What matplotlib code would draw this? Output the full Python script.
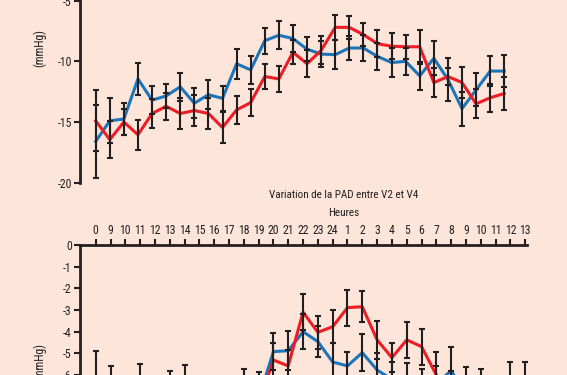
import numpy as np
import matplotlib
matplotlib.use('Agg')
import matplotlib.pyplot as plt
import logging

logging.getLogger('matplotlib.font_manager').setLevel(logging.ERROR)
plt.rcParams['font.family'] = ['Liberation Sans Narrow', 'Roboto Condensed',
                               'Open Sans Condensed', 'Liberation Sans', 'DejaVu Sans']
plt.rcParams['axes.unicode_minus'] = False

# --- data -------------------------------------------------------------------
hours = ['0', '9', '10', '11', '12', '13', '14', '15', '16', '17', '18', '19',
         '20', '21', '22', '23', '24', '1', '2', '3', '4', '5', '6', '7', '8',
         '9', '10', '11', '12', '13']

# top panel (previous comparison, only its lower part is visible)
top_blue = [-16.6, -14.9, -14.75, -11.45, -13.2, -12.85, -12.1, -13.45, -12.75, -13.05,
            -10.2, -10.7, -8.3, -7.85, -8.12, -9.0, -9.4, -9.45, -8.9, -8.9,
            -9.6, -10.1, -10.0, -11.2, -9.75, -11.5, -13.9, -12.35, -10.8, -10.8]
top_blue_err = [3.0, 1.85, 1.35, 1.3, 1.15, 1.0, 1.17, 1.24, 1.2, 1.05,
                1.25, 1.15, 1.07, 1.17, 1.15, 1.0, 1.1, 1.2, 1.0, 1.1,
                1.1, 1.2, 1.1, 1.18, 1.4, 1.8, 1.4, 1.35, 1.2, 1.3]
top_red = [-14.9, -16.45, -15.0, -16.05, -14.3, -13.7, -14.3, -14.05, -14.3, -15.45,
           -14.0, -13.4, -11.25, -11.45, -9.25, -10.2, -9.1, -7.2, -7.2, -7.8,
           -8.55, -8.75, -8.8, -8.8, -11.75, -11.25, -11.75, -13.5, -13.0, -12.65]
top_red_err = [2.5, 1.55, 1.1, 1.25, 1.2, 1.1, 1.25, 1.3, 1.3, 1.25,
               1.15, 1.1, 1.07, 1.1, 1.0, 1.1, 1.15, 1.05, 0.95, 0.95,
               1.1, 1.05, 1.0, 1.4, 1.2, 0.7, 1.25, 1.2, 1.15, 1.35]

# bottom panel: Variation de la PAD entre V2 et V4
pad_blue = [-7.0, -7.2, -7.6, -7.0, -7.7, -7.2, -7.0, -7.8, -7.9, -7.6,
            -7.0, -7.1, -4.92, -4.88, -4.0, -4.46, -5.4, -5.58, -4.97, -5.77,
            -6.2, -6.3, -6.5, -6.4, -5.8, -6.9, -7.0, -7.4, -6.8, -6.9]
pad_blue_err = [2.1, 1.6, 1.2, 1.5, 1.2, 1.4, 1.45, 1.1, 1.1, 1.2,
                1.3, 1.25, 0.84, 0.9, 0.82, 0.72, 0.88, 0.66, 0.86, 0.8,
                0.8, 0.87, 0.8, 0.8, 1.08, 1.25, 1.26, 1.1, 1.42, 1.52]
pad_red = [-7.6, -7.8, -8.0, -7.6, -8.1, -7.7, -7.5, -8.2, -8.1, -7.9,
           -7.6, -7.3, -5.31, -5.58, -3.1, -4.03, -3.77, -2.89, -2.85, -4.38,
           -5.2, -4.38, -4.69, -6.0, -6.8, -7.3, -7.4, -7.6, -7.5, -7.4]
pad_red_err = [1.5, 1.4, 1.2, 1.3, 1.1, 1.2, 1.2, 1.0, 1.0, 1.1,
               1.1, 1.0, 0.8, 0.73, 0.84, 0.77, 0.75, 0.83, 0.72, 0.88,
               0.66, 0.82, 0.83, 1.08, 1.0, 1.0, 1.0, 1.0, 1.0, 1.0]

BG = '#fde5d9'
BLUE = '#1b75bb'
RED = '#ee1c25'
INK = '#231f20'
FS = 8.5

fig = plt.figure(figsize=(5.67, 3.75), dpi=100, facecolor=BG)

def draw_series(ax, x, yb, eb, yr, er):
    ax.plot(x, yb, color=BLUE, lw=2.2, zorder=2)
    ax.plot(x, yr, color=RED, lw=2.2, zorder=2)
    for y, e in ((yb, eb), (yr, er)):
        ax.errorbar(x, y, yerr=e, fmt='none', ecolor=INK, elinewidth=1.5,
                    capsize=2.3, capthick=1.5, zorder=3)

# top panel
ax1 = fig.add_axes([80 / 567, 1 - 182.7 / 375, 445 / 567, 188.1 / 375])
ax1.set_facecolor('none')
x1 = np.arange(len(top_blue))
draw_series(ax1, x1, top_blue, top_blue_err, top_red, top_red_err)
ax1.set_xlim(-1.114, 30.47)
ax1.set_ylim(-20, -4.5)
ax1.spines[['top', 'right', 'bottom']].set_visible(False)
ax1.spines['left'].set_linewidth(2)
ax1.spines['left'].set_color(INK)
ax1.set_xticks([])
ax1.set_yticks([-5, -10, -15, -20])
ax1.set_yticklabels(['-5', '-10', '-15', '-20'])
ax1.tick_params(axis='y', length=4, width=1.5, color=INK, labelsize=FS,
                labelcolor=INK, pad=2)

# bottom panel
ax2 = fig.add_axes([80 / 567, 1 - 440 / 375, 446.7 / 567, 195 / 375])
ax2.set_facecolor('none')
x2 = np.arange(len(hours))
draw_series(ax2, x2, pad_blue, pad_blue_err, pad_red, pad_red_err)
ax2.set_xlim(-1.06, 29.1)
ax2.set_ylim(-9, 0)
ax2.spines[['right', 'bottom']].set_visible(False)
for s in ('left', 'top'):
    ax2.spines[s].set_linewidth(2)
    ax2.spines[s].set_color(INK)
ax2.xaxis.set_ticks_position('top')
ax2.set_xticks(x2)
ax2.set_xticklabels(hours)
ax2.set_yticks(np.arange(0, -9, -1))
ax2.set_yticklabels([str(v) for v in range(0, -9, -1)])
ax2.tick_params(axis='both', length=4, width=1.5, color=INK, labelsize=FS,
                labelcolor=INK, pad=2)

fig.text(344 / 567, 1 - 195 / 375, 'Variation de la PAD entre V2 et V4',
         ha='center', va='center', fontsize=8, color=INK)
fig.text(344 / 567, 1 - 213 / 375, 'Heures', ha='center', va='center',
         fontsize=8, color=INK)
fig.text(40 / 567, 1 - 48 / 375, '(mmHg)', rotation=90, ha='center',
         va='center', fontsize=8.5, color=INK)
fig.text(40 / 567, 1 - 362 / 375, '(mmHg)', rotation=90, ha='center',
         va='center', fontsize=8.5, color=INK)

fig.savefig('out.png', dpi=100, facecolor=BG)
